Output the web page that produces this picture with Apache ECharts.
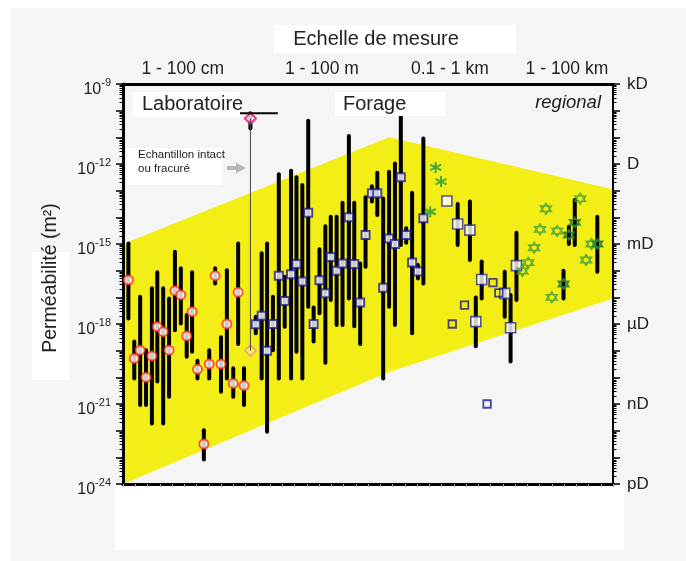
<!DOCTYPE html>
<html><head><meta charset="utf-8">
<script src="https://cdn.jsdelivr.net/npm/echarts@6/dist/echarts.min.js"></script>
<style>html,body{margin:0;padding:0;background:#fff}#c{width:686px;height:561px}</style>
</head><body><div id="c"></div>
<script>
// ---- axis / label data ----
const yLabelExp = [-24, -21, -18, -15, -12, -9];
const unitLabels = ['pD', 'nD', 'µD', 'mD', 'D', 'kD'];
const scalePos = [12.2, 40.6, 66.7, 90.6];
const scaleLabels = ['1 - 100 cm', '1 - 100 m', '0.1 - 1 km', '1 - 100 km'];

// ---- yellow envelope (x position, log10 permeability) ----
const zoneX = [0, 54.3, 100, 100, 54.3, 0];
const zoneY = [-15, -11, -12.95, -17.04, -19.8, -24];

// ---- Laboratoire (red circles) ----
const labX = [1.1, 2.3, 3.5, 4.7, 5.9, 7.0, 8.2, 9.4, 10.6, 11.8, 13.0, 14.1, 15.2, 16.5, 17.6, 18.8, 20.0, 21.2, 22.5, 23.5, 24.7];
const labTop = [-14.98, -18.66, -16.98, -18.98, -16.66, -16.06, -16.66, -17.04, -15.29, -15.91, -17.66, -16.06, -19.38, -21.98, -18.98, -15.91, -18.5, -15.98, -19.66, -14.98, -19.66];
const labBot = [-17.79, -20.04, -21.04, -21.04, -21.73, -20.16, -21.73, -20.73, -18.23, -17.98, -19.23, -19.04, -20.04, -23.08, -20.04, -16.48, -20.54, -20.04, -20.73, -18.75, -21.04];
const labMark = [-16.35, -19.29, -18.98, -20.0, -19.2, -18.1, -18.29, -18.98, -16.75, -16.91, -18.45, -17.54, -19.7, -22.5, -19.5, -16.19, -19.5, -18.0, -20.23, -16.81, -20.31];

// ---- Echantillon intact ou fracuré (diamonds) ----
const specX = [26.0];
const specTopMark = [-10.29];
const specBotMark = [-19.0];
const specBarTop = [-10.1];
const specBarBot = [-10.66];
const capX = [23.4, 31.6];
const capY = [-10.1, -10.1];

// ---- Forage (small navy squares) ----
const forX = [27.1, 28.3, 29.4, 30.6, 31.8, 33.0, 34.3, 35.4, 36.6, 37.8, 38.9, 40.1, 41.3, 42.4, 43.6, 44.8, 46.1, 47.2, 48.4, 49.5, 50.8, 51.9, 53.1, 54.3, 55.5, 56.7, 57.8, 59.0, 60.2, 61.3];
const forTop = [-17.73, -15.35, -14.98, -16.98, -12.38, -16.23, -12.25, -12.5, -12.79, -10.38, -17.38, -15.2, -14.33, -13.98, -13.98, -13.45, -10.95, -13.45, -15.73, -13.25, -12.83, -12.33, -13.29, -12.29, -11.98, -10.23, -14.41, -13.08, -15.79, -11.04];
const forBot = [-18.35, -20.04, -22.04, -18.98, -20.04, -18.1, -20.04, -19.04, -20.04, -17.35, -18.66, -17.6, -19.45, -17.1, -18.04, -18.04, -17.04, -18.08, -18.75, -15.85, -13.41, -13.91, -20.04, -17.35, -18.04, -15.04, -14.95, -18.35, -16.29, -16.48];
const forMark = [-18.01, -17.69, -19.0, -18.0, -16.19, -17.14, -16.13, -15.75, -16.41, -13.83, -18.0, -16.36, -16.85, -15.49, -16.0, -15.73, -14.0, -15.75, -17.19, -14.66, -13.1, -13.1, -16.64, -14.79, -15.0, -12.5, -14.66, -15.69, -16.03, -14.03];

// ---- 0.1 - 1 km (large white squares) ----
const kmX = [66.1, 68.3, 70.8, 72.0, 73.2, 77.9, 79.1, 80.3];
const kmTop = [null, -13.5, -13.41, -17.01, -15.66, -16.04, -16.91, -14.58];
const kmBot = [null, -15.04, -15.6, -18.83, -17.04, -17.73, -19.41, -17.1];
const kmMark = [-13.39, -14.25, -14.48, -17.91, -16.33, -16.85, -18.14, -15.81];

// ---- hollow small squares ----
const sqX = [67.2, 69.7, 74.3, 75.5, 76.7];
const sqY = [-18.0, -17.29, -21.0, -16.45, -16.83];

// ---- green asterisks ----
const astX = [62.7, 63.8, 64.9];
const astY = [-13.79, -12.13, -12.66];

// ---- regional hexagrams ----
const hexX = [81.5, 82.7, 83.9, 85.1, 86.3, 87.5, 88.6, 93.3, 94.5, 95.6];
const hexY = [-16.01, -15.7, -15.14, -14.45, -13.68, -17.0, -14.51, -13.3, -15.6, -15.0];
const regX = [89.9, 91.0, 92.2, 96.8];
const regTop = [-16.0, -14.35, -13.35, -13.98];
const regBot = [-17.04, -15.0, -15.04, -16.04];
const regMark = [-16.5, -14.66, -14.19, -15.0];

// ---------------------------------------------
const FONT = '"Liberation Sans", Arial, sans-serif';
const fineTicks = [];
for (let n = -24; n < -9; n++) for (let k = 2; k <= 9; k++) fineTicks.push(n + Math.log10(k));

function pairs(xs, ys) { return xs.map((x, i) => [x, ys[i]]); }
function barData(xs, ts, bs) {
  return xs.map((x, i) => [x, ts[i], bs[i]]).filter(d => d[1] != null);
}
function barRender(params, api) {
  const p1 = api.coord([api.value(0), api.value(1)]);
  const p2 = api.coord([api.value(0), api.value(2)]);
  return { type: 'line', shape: { x1: p1[0], y1: p1[1], x2: p2[0], y2: p2[1] },
    style: { stroke: '#000', lineWidth: 4, lineCap: 'round' } };
}
function barSeries(xs, ts, bs) {
  return { type: 'custom', renderItem: barRender, data: barData(xs, ts, bs),
    encode: { x: 0, y: [1, 2] }, silent: true, z: 2 };
}
const HEX = 'path://M10,0 L18.66,15 L1.34,15 Z M10,20 L18.66,5 L1.34,5 Z';
const AST = 'path://M10,0 L10,20 M1.34,5 L18.66,15 M1.34,15 L18.66,5';

const chart = echarts.init(document.getElementById('c'), null, { renderer: 'canvas' });
const option = {
  animation: false,
  textStyle: { fontFamily: FONT },
  grid: { left: 123, right: 73, top: 84, bottom: 77 },
  xAxis: [
    { type: 'value', min: 0, max: 100, interval: 2.5, position: 'bottom',
      axisLine: { onZero: false, lineStyle: { color: '#000', width: 3 } },
      axisTick: { show: true, length: 3, lineStyle: { color: '#aaa', width: 1 } },
      axisLabel: { show: false }, splitLine: { show: false } },
    { type: 'value', min: 0, max: 100, position: 'top',
      axisLine: { onZero: false, lineStyle: { color: '#000', width: 3 } },
      axisTick: { show: false }, splitLine: { show: false },
      axisLabel: { show: true, customValues: scalePos, margin: 6, fontSize: 17.5, color: '#222', fontFamily: FONT,
        formatter: v => scaleLabels[scalePos.indexOf(v)] } }
  ],
  yAxis: [
    { type: 'value', min: -24, max: -9, interval: 3, position: 'left',
      axisLine: { onZero: false, lineStyle: { color: '#000', width: 3 } },
      axisTick: { show: true, length: 7, lineStyle: { color: '#000', width: 1.5 } },
      minorTick: { show: true, splitNumber: 3, length: 7, lineStyle: { color: '#000', width: 1.5 } },
      splitLine: { show: false }, minorSplitLine: { show: false },
      axisLabel: { margin: 12, color: '#222', fontFamily: FONT,
        formatter: v => '{a|10}{b|' + v + '}',
        rich: { a: { fontSize: 16, color: '#222', padding: [12, 0, 0, 0], fontFamily: FONT },
                b: { fontSize: 11, color: '#222', padding: [0, 0, 3, 0], fontFamily: FONT } } } },
    { type: 'value', min: -24, max: -9, interval: 3, position: 'right',
      axisLine: { onZero: false, lineStyle: { color: '#000', width: 2 } },
      axisTick: { show: true, length: 7, lineStyle: { color: '#000', width: 1.5 } },
      minorTick: { show: true, splitNumber: 3, length: 7, lineStyle: { color: '#000', width: 1.5 } },
      splitLine: { show: false }, minorSplitLine: { show: false },
      axisLabel: { margin: 14, fontSize: 17, color: '#222', fontFamily: FONT, padding: [4, 0, 0, 0],
        formatter: v => unitLabels[yLabelExp.indexOf(v)] } },
    { type: 'value', min: -24, max: -9, position: 'left',
      axisLine: { show: false, onZero: false }, axisLabel: { show: false }, splitLine: { show: false },
      axisTick: { show: true, customValues: fineTicks, length: 3.5, lineStyle: { color: '#000', width: 1 } } },
    { type: 'value', min: -24, max: -9, position: 'right',
      axisLine: { show: false, onZero: false }, axisLabel: { show: false }, splitLine: { show: false },
      axisTick: { show: true, customValues: fineTicks, length: 3.5, lineStyle: { color: '#000', width: 1 } } }
  ],
  series: [
    { type: 'custom', z: -1, silent: true, data: pairs(zoneX, zoneY), encode: { x: 0, y: 1 },
      renderItem: (params, api) => {
        if (params.dataIndex !== 0) return null;
        const pts = zoneX.map((x, i) => api.coord([x, zoneY[i]]));
        return { type: 'polygon', shape: { points: pts }, style: { fill: '#f4ee17' } };
      } },
    { type: 'line', data: [[specX[0], specTopMark[0]], [specX[0], specBotMark[0]]], showSymbol: false, silent: true,
      lineStyle: { color: '#444', width: 1 } },
    { type: 'line', data: pairs(capX, capY), showSymbol: false, silent: true,
      lineStyle: { color: '#000', width: 2 } },
    barSeries(labX, labTop, labBot),
    barSeries(specX, specBarTop, specBarBot),
    barSeries(forX, forTop, forBot),
    barSeries(kmX, kmTop, kmBot),
    barSeries(regX, regTop, regBot),
    { type: 'scatter', data: pairs(labX, labMark), symbol: 'circle', symbolSize: 9, silent: true,
      itemStyle: { color: '#fff', borderColor: '#ff2a2a', borderWidth: 2 } },
    { type: 'scatter', data: pairs(specX, specTopMark), symbol: 'diamond', symbolSize: 11, silent: true,
      itemStyle: { color: '#fff', borderColor: '#e5157f', borderWidth: 2.2 } },
    { type: 'scatter', data: pairs(specX, specBotMark), symbol: 'diamond', symbolSize: 11, silent: true,
      itemStyle: { color: 'rgba(255,255,255,0.3)', borderColor: '#f27ab6', borderWidth: 1.5 } },
    { type: 'scatter', data: pairs(forX, forMark), symbol: 'rect', symbolSize: 8, silent: true,
      itemStyle: { color: '#fff', borderColor: '#1d1a8c', borderWidth: 2 } },
    { type: 'scatter', data: pairs(kmX, kmMark), symbol: 'rect', symbolSize: 10, silent: true,
      itemStyle: { color: '#fff', borderColor: '#2b2a9c', borderWidth: 1.6 } },
    { type: 'scatter', data: pairs(sqX, sqY), symbol: 'rect', symbolSize: 7.5, silent: true,
      itemStyle: { color: 'rgba(0,0,0,0)', borderColor: '#1d1a8c', borderWidth: 1.8 } },
    { type: 'scatter', data: pairs(astX, astY), symbol: AST, symbolSize: 11, silent: true,
      itemStyle: { color: 'rgba(0,0,0,0)', borderColor: '#1f9a3c', borderWidth: 2 } },
    { type: 'scatter', data: pairs(hexX, hexY), symbol: HEX, symbolSize: 11, silent: true,
      itemStyle: { color: 'rgba(0,0,0,0)', borderColor: '#3a9e36', borderWidth: 1.4 } },
    { type: 'scatter', data: pairs(regX, regMark), symbol: HEX, symbolSize: 11, silent: true,
      itemStyle: { color: '#2f9a44', borderColor: '#1e7f2e', borderWidth: 1.4 } }
  ],
  graphic: [
    { type: 'rect', z: -100, silent: true, shape: { x: 10, y: 8, width: 676, height: 553 }, style: { fill: '#f5f5f5' } },
    { type: 'rect', z: -50, silent: true, shape: { x: 115, y: 486, width: 509, height: 64 }, style: { fill: '#fff' } },
    { type: 'rect', z: 50, silent: true, shape: { x: 274, y: 25, width: 242, height: 28 }, style: { fill: '#fff' } },
    { type: 'text', z: 51, silent: true, x: 376, y: 39, style: { text: 'Echelle de mesure', fontSize: 20, fontFamily: FONT, fill: '#222', align: 'center', verticalAlign: 'middle' } },
    { type: 'rect', z: 50, silent: true, shape: { x: 133, y: 92, width: 107, height: 25 }, style: { fill: '#fff' } },
    { type: 'text', z: 51, silent: true, x: 142, y: 104, style: { text: 'Laboratoire', fontSize: 20, fontFamily: FONT, fill: '#222', align: 'left', verticalAlign: 'middle' } },
    { type: 'rect', z: 50, silent: true, shape: { x: 335, y: 92, width: 110, height: 24 }, style: { fill: '#fff' } },
    { type: 'text', z: 51, silent: true, x: 343, y: 104, style: { text: 'Forage', fontSize: 20, fontFamily: FONT, fill: '#222', align: 'left', verticalAlign: 'middle' } },
    { type: 'text', z: 51, silent: true, x: 601, y: 103, style: { text: 'regional', fontSize: 18.5, fontStyle: 'italic', fontFamily: FONT, fill: '#222', align: 'right', verticalAlign: 'middle' } },
    { type: 'rect', z: 50, silent: true, shape: { x: 127, y: 148, width: 95, height: 37 }, style: { fill: '#fff' } },
    { type: 'text', z: 51, silent: true, x: 138, y: 162, style: { text: 'Echantillon intact\nou fracuré', fontSize: 11.5, lineHeight: 14, fontFamily: FONT, fill: '#222', align: 'left', verticalAlign: 'middle' } },
    { type: 'polygon', z: 51, silent: true, shape: { points: [[227, 166], [236, 166], [236, 162.5], [246, 168], [236, 173.5], [236, 170], [227, 170]] }, style: { fill: '#b8b8b8' } },
    { type: 'rect', z: 50, silent: true, shape: { x: 32, y: 252, width: 37, height: 128 }, style: { fill: '#fff' } },
    { type: 'text', z: 51, silent: true, x: 51, y: 278, rotation: Math.PI / 2, style: { text: 'Perméabilité (m²)', fontSize: 19.5, fontFamily: FONT, fill: '#222', align: 'center', verticalAlign: 'middle' } }
  ]
};
chart.setOption(option);
</script>
</body></html>
